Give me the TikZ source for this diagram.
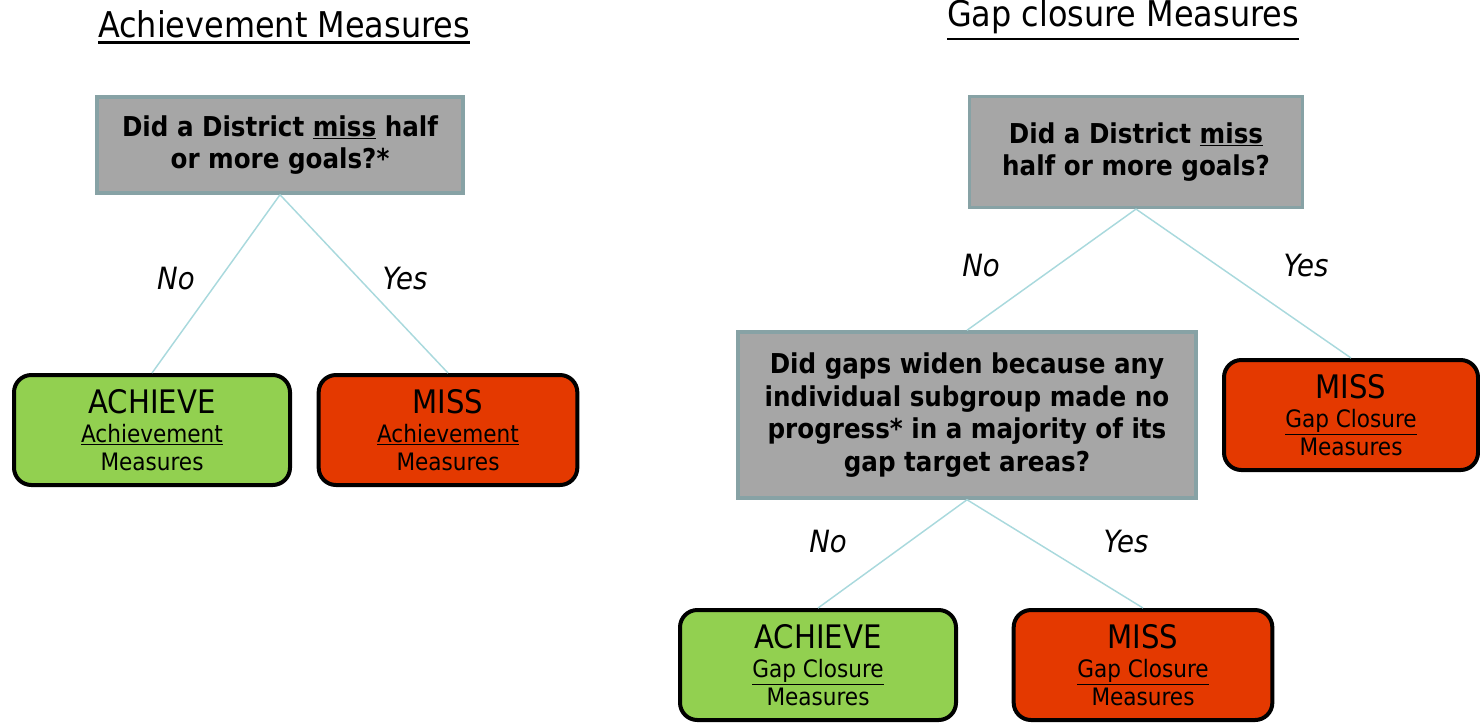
\documentclass[tikz,border=0pt]{standalone}
\usepackage{fontspec}
\setmainfont{DejaVu Sans Condensed}
\usetikzlibrary{positioning}

\definecolor{qfill}{HTML}{A6A6A6}
\definecolor{qborder}{HTML}{87A2A5}
\definecolor{achievegreen}{HTML}{92D050}
\definecolor{missred}{HTML}{E43900}
\definecolor{branchblue}{HTML}{A9D9DD}

% heavier underline for the headings
\newcommand{\headul}[1]{\leavevmode\vtop{\hbox{#1}\kern2.5pt\hrule height 1.7pt}}

\begin{document}
\begin{tikzpicture}[x=0.75pt,y=-0.75pt,
    question/.style={draw=qborder, fill=qfill, line width=2.6pt, align=center,
      inner sep=0pt, font=\fontsize{20.5}{24.5}\selectfont\bfseries},
    result/.style={draw=black, line width=3pt, rounded corners=13pt, align=center,
      inner sep=0pt, minimum height=82.5pt, font=\fontsize{18}{21}\selectfont},
    heading/.style={font=\fontsize{26.6}{30}\selectfont},
    answer/.style={font=\fontsize{23}{27}\selectfont\itshape},
    branch/.style={draw=branchblue, line width=1.1pt}]
  \useasboundingbox (0,0) rectangle (1480,722);

  % headings
  \node[heading] (ttlach) at (284,27) {\headul{Achievement Measures}};
  \node[heading] (ttlgap) at (1123,20) {\headul{Gap closure Measures}};

  % achievement tree
  \node[question, minimum width=274.5pt, minimum height=72pt] (qach) at (280,145)
    {Did a District \underline{miss} half\\or more goals?*};
  \node[result, fill=achievegreen, minimum width=207pt] (achach) at (152,430)
    {{\fontsize{24.3}{28}\selectfont ACHIEVE}\\[1pt]\underline{Achievement}\\Measures};
  \node[result, fill=missred, minimum width=194pt] (missach) at (448,430)
    {{\fontsize{24.3}{28}\selectfont MISS}\\[1pt]\underline{Achievement}\\Measures};
  \draw[branch] (qach.south) -- (achach.north);
  \draw[branch] (qach.south) -- (missach.north);
  \node[answer] (noach) at (176,279) {No};
  \node[answer] (yesach) at (405,279) {Yes};

  % gap closure tree
  \node[question, minimum width=250pt, minimum height=83pt] (qgap) at (1136,152)
    {Did a District \underline{miss}\\half or more goals?};
  \node[question, minimum width=343.5pt, minimum height=124.5pt] (qwiden) at (967,415)
    {Did gaps widen because any\\individual subgroup made no\\progress* in a majority of its\\gap target areas?};
  \node[result, fill=missred, minimum width=190.5pt] (missgap) at (1351,415)
    {{\fontsize{24.3}{28}\selectfont MISS}\\[1pt]\underline{Gap Closure}\\Measures};
  \node[result, fill=achievegreen, minimum width=207pt] (achgap) at (818,665)
    {{\fontsize{24.3}{28}\selectfont ACHIEVE}\\[1pt]\underline{Gap Closure}\\Measures};
  \node[result, fill=missred, minimum width=194pt] (missgaptwo) at (1143,665)
    {{\fontsize{24.3}{28}\selectfont MISS}\\[1pt]\underline{Gap Closure}\\Measures};
  \draw[branch] (qgap.south) -- (qwiden.north);
  \draw[branch] (qgap.south) -- (missgap.north);
  \draw[branch] (qwiden.south) -- (achgap.north);
  \draw[branch] (qwiden.south) -- (missgaptwo.north);
  \node[answer] (nogap) at (981,266) {No};
  \node[answer] (yesgap) at (1306,266) {Yes};
  \node[answer] (nowiden) at (828,542) {No};
  \node[answer] (yeswiden) at (1126,542) {Yes};
\end{tikzpicture}
\end{document}
